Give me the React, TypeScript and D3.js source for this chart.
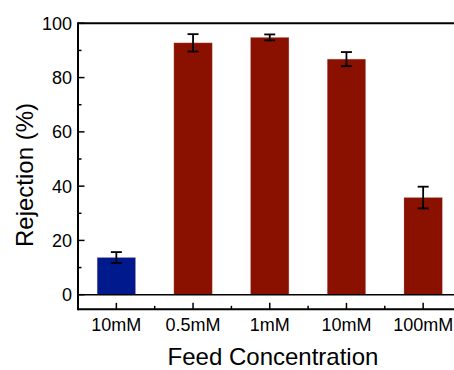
import React from "react";
import * as d3 from "d3";

const categories = ["10mM", "0.5mM", "1mM", "10mM", "100mM"];
const rejection = [13.7, 92.8, 94.8, 86.8, 35.8];
const errors = [2.0, 3.2, 1.1, 2.6, 4.0];
const barColors = ["#001a8e", "#8a1000", "#8a1000", "#8a1000", "#8a1000"];
const yTicks = [0, 20, 40, 60, 80, 100];
const yMinorTicks = [10, 30, 50, 70, 90];

const W = 454;
const H = 370;
const left = 78;
const right = 461.5;
const top = 23.3;
const zeroY = 294.7;
const font = "'Liberation Sans', Arial, sans-serif";

export default function App() {
  const y = d3.scaleLinear().domain([0, 100]).range([zeroY, top]);
  const bottomY = y(-5.4);
  const x = d3
    .scaleBand<string>()
    .domain(categories.map((_, i) => String(i)))
    .range([left, right])
    .paddingInner(0.5)
    .paddingOuter(0.25);
  const step = x.step();
  const bw = x.bandwidth();
  const cx = (i: number) => (x(String(i)) as number) + bw / 2;
  const minorX = d3.range(1, categories.length).map((k) => cx(k) - step / 2);

  return (
    <svg
      width={W}
      height={H}
      style={{ position: "fixed", left: 0, top: 0, background: "#fff" }}
      fontFamily={font}
    >
      {/* bars */}
      {rejection.map((v, i) => (
        <rect
          key={"b" + i}
          x={x(String(i))}
          y={y(v)}
          width={bw}
          height={y(0) - y(v)}
          fill={barColors[i]}
          stroke="#d8a0a0"
          strokeOpacity={0.5}
          strokeWidth={0.6}
        />
      ))}
      {/* error bars */}
      {rejection.map((v, i) => {
        const c = cx(i);
        const t = y(v + errors[i]);
        const b = y(v - errors[i]);
        return (
          <g key={"e" + i} stroke="#000" strokeWidth={1.8}>
            <line x1={c} x2={c} y1={t} y2={b} />
            <line x1={c - 5.5} x2={c + 5.5} y1={t} y2={t} />
            <line x1={c - 5.5} x2={c + 5.5} y1={b} y2={b} />
          </g>
        );
      })}
      {/* zero line */}
      <line x1={left} x2={W} y1={y(0)} y2={y(0)} stroke="#000" strokeWidth={1.5} />
      {/* frame */}
      <line x1={left} x2={W} y1={top} y2={top} stroke="#000" strokeWidth={2} />
      <line x1={left} x2={W} y1={bottomY} y2={bottomY} stroke="#000" strokeWidth={2} />
      <line x1={left} x2={left} y1={top - 1} y2={bottomY + 1} stroke="#000" strokeWidth={2} />
      {/* y ticks */}
      {yTicks.map((t) => (
        <g key={"yt" + t}>
          <line x1={left} x2={left + 6.5} y1={y(t)} y2={y(t)} stroke="#000" strokeWidth={1.5} />
          <text
            x={72}
            y={y(t)}
            dy="0.36em"
            textAnchor="end"
            fontSize={18}
            fill="#000"
          >
            {t}
          </text>
        </g>
      ))}
      {yMinorTicks.map((t) => (
        <line key={"ym" + t} x1={left} x2={left + 3.5} y1={y(t)} y2={y(t)} stroke="#000" strokeWidth={1.5} />
      ))}
      {/* x ticks */}
      {categories.map((c, i) => (
        <g key={"xt" + i}>
          <line x1={cx(i)} x2={cx(i)} y1={bottomY} y2={bottomY - 6.5} stroke="#000" strokeWidth={1.5} />
          <text x={cx(i)} y={330.5} textAnchor="middle" fontSize={18} fill="#000">
            {c}
          </text>
        </g>
      ))}
      {minorX.map((m, k) => (
        <line key={"xm" + k} x1={m} x2={m} y1={bottomY} y2={bottomY - 3.5} stroke="#000" strokeWidth={1.5} />
      ))}
      {/* axis titles */}
      <text x={273} y={365} textAnchor="middle" fontSize={24} fill="#000">
        Feed Concentration
      </text>
      <text
        transform={`translate(33,175) rotate(-90)`}
        textAnchor="middle"
        fontSize={24}
        fill="#000"
      >
        Rejection (%)
      </text>
    </svg>
  );
}
